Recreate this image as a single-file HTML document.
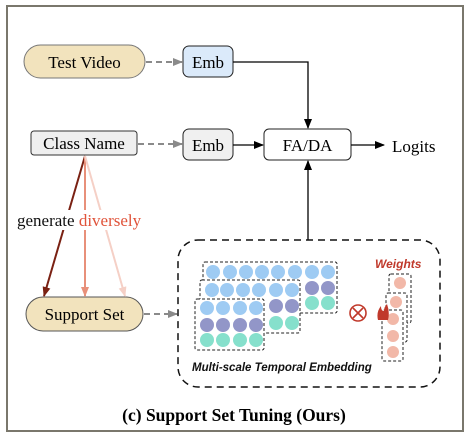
<!DOCTYPE html>
<html><head><style>body{margin:0;background:#fff}svg{display:block}</style></head><body>
<svg width="470" height="437" viewBox="0 0 470 437" xmlns="http://www.w3.org/2000/svg" font-family="Liberation Serif, serif">
<defs>
<marker id="ab" markerWidth="10" markerHeight="10" refX="9" refY="5" orient="auto" markerUnits="userSpaceOnUse"><path d="M0,1 L10,5 L0,9 Z" fill="#000"/></marker>
<marker id="ag" markerWidth="10" markerHeight="10" refX="9" refY="5" orient="auto" markerUnits="userSpaceOnUse"><path d="M0,1 L10,5 L0,9 Z" fill="#8a8a8a"/></marker>
<marker id="r1" markerWidth="10" markerHeight="10" refX="9" refY="5" orient="auto" markerUnits="userSpaceOnUse"><path d="M0,1 L10,5 L0,9 Z" fill="#7a2113"/></marker>
<marker id="r2" markerWidth="10" markerHeight="10" refX="9" refY="5" orient="auto" markerUnits="userSpaceOnUse"><path d="M0,1 L10,5 L0,9 Z" fill="#e8907a"/></marker>
<marker id="r3" markerWidth="10" markerHeight="10" refX="9" refY="5" orient="auto" markerUnits="userSpaceOnUse"><path d="M0,1 L10,5 L0,9 Z" fill="#f5d0c6"/></marker>
</defs>
<rect x="7" y="6" width="456" height="425" fill="#fff" stroke="#7a776c" stroke-width="2"/>
<rect x="24" y="45" width="121" height="33" rx="16.5" fill="#f2e3bd" stroke="#777" stroke-width="1"/>
<text x="84.5" y="68" font-size="17" text-anchor="middle">Test Video</text>
<rect x="183" y="46" width="50" height="31" rx="6" fill="#dbeafa" stroke="#222" stroke-width="1"/>
<text x="208" y="68" font-size="17" text-anchor="middle">Emb</text>
<rect x="31" y="131" width="106" height="24" rx="3" fill="#efefef" stroke="#333" stroke-width="1"/>
<text x="84" y="149" font-size="17" text-anchor="middle">Class Name</text>
<rect x="183" y="129" width="50" height="31" rx="6" fill="#f0f0f0" stroke="#222" stroke-width="1"/>
<text x="208" y="151" font-size="17" text-anchor="middle">Emb</text>
<rect x="264" y="129" width="87" height="31" rx="5" fill="#fff" stroke="#222" stroke-width="1"/>
<text x="307.5" y="151" font-size="17" text-anchor="middle">FA/DA</text>
<text x="392" y="152" font-size="17">Logits</text>
<rect x="26" y="297" width="117" height="34" rx="17" fill="#f2e3bd" stroke="#555" stroke-width="1"/>
<text x="84.5" y="320" font-size="17" text-anchor="middle">Support Set</text>
<line x1="146" y1="62" x2="182" y2="62" stroke="#8a8a8a" stroke-width="2" stroke-dasharray="6,4" marker-end="url(#ag)"/>
<line x1="138" y1="144" x2="182" y2="144" stroke="#8a8a8a" stroke-width="2" stroke-dasharray="6,4" marker-end="url(#ag)"/>
<line x1="144" y1="314" x2="177" y2="314" stroke="#8a8a8a" stroke-width="2" stroke-dasharray="6,4" marker-end="url(#ag)"/>
<path d="M233,62 H308 V128" fill="none" stroke="#000" stroke-width="1.3" marker-end="url(#ab)"/>
<line x1="233" y1="145" x2="263" y2="145" stroke="#000" stroke-width="1.3" marker-end="url(#ab)"/>
<line x1="351" y1="145" x2="384" y2="145" stroke="#000" stroke-width="1.3" marker-end="url(#ab)"/>
<line x1="308" y1="240" x2="308" y2="161" stroke="#000" stroke-width="1.3" marker-end="url(#ab)"/>
<line x1="85" y1="156" x2="44" y2="296" stroke="#7a2113" stroke-width="2" marker-end="url(#r1)"/>
<line x1="85" y1="156" x2="85" y2="296" stroke="#e8907a" stroke-width="2" marker-end="url(#r2)"/>
<line x1="85" y1="156" x2="125" y2="296" stroke="#f5d0c6" stroke-width="2" marker-end="url(#r3)"/>
<rect x="14" y="210" width="140" height="20" fill="#fff"/>
<text x="17" y="226" font-size="17" fill="#111">generate <tspan fill="#e0533a">diversely</tspan></text>
<rect x="178" y="240" width="262" height="147" rx="20" fill="none" stroke="#111" stroke-width="1.5" stroke-dasharray="7,5"/>
<rect x="203" y="262" width="134" height="51" rx="2" fill="#fff" stroke="#222" stroke-width="1" stroke-dasharray="3,2"/>
<g fill="#9ecbf3"><circle cx="213" cy="272" r="7"/><circle cx="230" cy="272" r="7"/><circle cx="246" cy="272" r="7"/><circle cx="262" cy="272" r="7"/><circle cx="278" cy="272" r="7"/><circle cx="295" cy="272" r="7"/><circle cx="312" cy="272" r="7"/><circle cx="328" cy="272" r="7"/></g>
<g fill="#9296c8"><circle cx="312" cy="288" r="7"/><circle cx="328" cy="288" r="7"/></g>
<g fill="#86e0cc"><circle cx="312" cy="303" r="7"/><circle cx="328" cy="303" r="7"/></g>
<rect x="200" y="280" width="100" height="53" rx="2" fill="#fff" stroke="#222" stroke-width="1" stroke-dasharray="3,2"/>
<g fill="#9ecbf3"><circle cx="212" cy="290" r="7"/><circle cx="227" cy="290" r="7"/><circle cx="243" cy="290" r="7"/><circle cx="259" cy="290" r="7"/><circle cx="276" cy="290" r="7"/><circle cx="292" cy="290" r="7"/></g>
<g fill="#9296c8"><circle cx="276" cy="306" r="7"/><circle cx="292" cy="306" r="7"/></g>
<g fill="#86e0cc"><circle cx="276" cy="323" r="7"/><circle cx="292" cy="323" r="7"/></g>
<rect x="195" y="299" width="69" height="51" rx="2" fill="#fff" stroke="#222" stroke-width="1" stroke-dasharray="3,2"/>
<g fill="#9ecbf3"><circle cx="207" cy="308" r="7"/><circle cx="223" cy="308" r="7"/><circle cx="240" cy="308" r="7"/><circle cx="256" cy="308" r="7"/></g>
<g fill="#9296c8"><circle cx="207" cy="325" r="7"/><circle cx="223" cy="325" r="7"/><circle cx="240" cy="325" r="7"/><circle cx="256" cy="325" r="7"/></g>
<g fill="#86e0cc"><circle cx="207" cy="340" r="7"/><circle cx="223" cy="340" r="7"/><circle cx="240" cy="340" r="7"/><circle cx="256" cy="340" r="7"/></g>
<circle cx="358" cy="313" r="8" fill="none" stroke="#c0392b" stroke-width="1.6"/>
<path d="M353,308 L363,318 M363,308 L353,318" stroke="#c0392b" stroke-width="1.6"/>
<text x="375" y="268" font-size="12" font-weight="bold" font-family="Liberation Sans, sans-serif" font-style="italic" fill="#c0392b">Weights</text>
<rect x="389" y="274" width="22" height="49" rx="2" fill="#fff" stroke="#222" stroke-width="1" stroke-dasharray="3,2"/>
<circle cx="400" cy="283" r="6" fill="#f2b8a8"/>
<rect x="386" y="293" width="21" height="49" rx="2" fill="#fff" stroke="#222" stroke-width="1" stroke-dasharray="3,2"/>
<circle cx="396" cy="302" r="6" fill="#f2b8a8"/>
<rect x="382" y="310" width="21" height="51" rx="2" fill="#fff" stroke="#222" stroke-width="1" stroke-dasharray="3,2"/>
<circle cx="393" cy="319" r="6" fill="#f2b8a8"/><circle cx="393" cy="336" r="6" fill="#f2b8a8"/><circle cx="393" cy="352" r="6" fill="#f2b8a8"/>
<path d="M378,320 Q376,312 381,306 Q381,311 384,311 Q384,307 387,304 Q390,312 388,320 Z" fill="#c0392b"/>
<text x="192" y="371" font-size="11.5" font-weight="bold" font-style="italic" font-family="Liberation Sans, sans-serif" fill="#111">Multi-scale Temporal Embedding</text>
<text x="234" y="421" font-size="17.5" font-weight="bold" text-anchor="middle">(c) Support Set Tuning (Ours)</text>
</svg>
</body></html>
